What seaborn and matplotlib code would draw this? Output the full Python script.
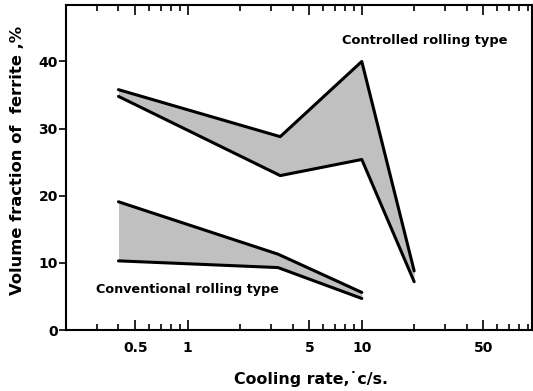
import pandas as pd
import matplotlib
matplotlib.use("Agg")
import matplotlib.pyplot as plt
import seaborn as sns
from matplotlib.ticker import FixedLocator, NullFormatter, LogLocator

sns.set_style("ticks")
plt.rcParams['font.family'] = ['DejaVu Sans']
plt.rcParams.update({"text.color": "black", "axes.labelcolor": "black",
                     "xtick.color": "black", "ytick.color": "black",
                     "axes.edgecolor": "black"})

# ---------------- DATA ---------------- #
ctrl_rate = [0.4, 3.4, 10, 20]
ctrl_upper = [35.8, 28.8, 40.0, 8.8]
ctrl_lower = [34.8, 23.0, 25.4, 7.2]

conv_rate = [0.4, 3.3, 10]
conv_upper = [19.1, 11.3, 5.6]
conv_lower = [10.3, 9.3, 4.7]

x_ticks = [0.5, 1, 5, 10, 50]
x_labels = ["0.5", "1", "5", "10", "50"]
y_ticks = [0, 10, 20, 30, 40]

# ---------------- PLOT ---------------- #
fig = plt.figure(figsize=(5.33, 3.91), dpi=100)
ax = fig.add_axes([0.124, 0.156, 0.874, 0.831])

shade = "#c0c0c0"
ax.fill_between(ctrl_rate, ctrl_lower, ctrl_upper, color=shade, lw=0)
ax.fill_between(conv_rate, conv_lower, conv_upper, color=shade, lw=0)

df = pd.concat([
    pd.DataFrame({"rate": ctrl_rate, "vf": ctrl_upper, "curve": "cu"}),
    pd.DataFrame({"rate": ctrl_rate, "vf": ctrl_lower, "curve": "cl"}),
    pd.DataFrame({"rate": conv_rate, "vf": conv_upper, "curve": "vu"}),
    pd.DataFrame({"rate": conv_rate, "vf": conv_lower, "curve": "vl"}),
])
for name, g in df.groupby("curve"):
    sns.lineplot(data=g, x="rate", y="vf", ax=ax, color="black", lw=2.2, sort=False)

ax.set_xscale("log")
ax.set_xlim(0.2, 95)
ax.set_ylim(0, 48.4)

ax.xaxis.set_major_locator(FixedLocator(x_ticks))
ax.set_xticklabels(x_labels)
ax.xaxis.set_minor_locator(LogLocator(base=10, subs=range(2, 10)))
ax.xaxis.set_minor_formatter(NullFormatter())
ax.set_yticks(y_ticks)

ax.tick_params(axis="x", which="both", direction="in", top=True, length=4, width=1.2, pad=8)
ax.tick_params(axis="x", which="major", length=7)
ax.tick_params(axis="y", direction="out", right=True, length=5, width=1.2, pad=1)
for lab in ax.get_xticklabels() + ax.get_yticklabels():
    lab.set_fontweight("bold")
    lab.set_fontsize(10)
for s in ax.spines.values():
    s.set_linewidth(1.5)
    s.set_visible(True)

ax.text(23, 43.1, "Controlled rolling type", ha="center", va="center",
        fontsize=9.4, fontweight="bold")
ax.text(1.0, 6.1, "Conventional rolling type", ha="center", va="center",
        fontsize=9.2, fontweight="bold")

ax.set_xlabel("Cooling rate,\u02d9c/s.", fontsize=11.4, fontweight="bold")
ax.xaxis.set_label_coords(0.526, -0.125)
ax.set_ylabel("Volume fraction of  ferrite ,%", fontsize=11.8, fontweight="bold")
ax.yaxis.set_label_coords(-0.088, 0.523)

fig.savefig("out.png", dpi=100)
